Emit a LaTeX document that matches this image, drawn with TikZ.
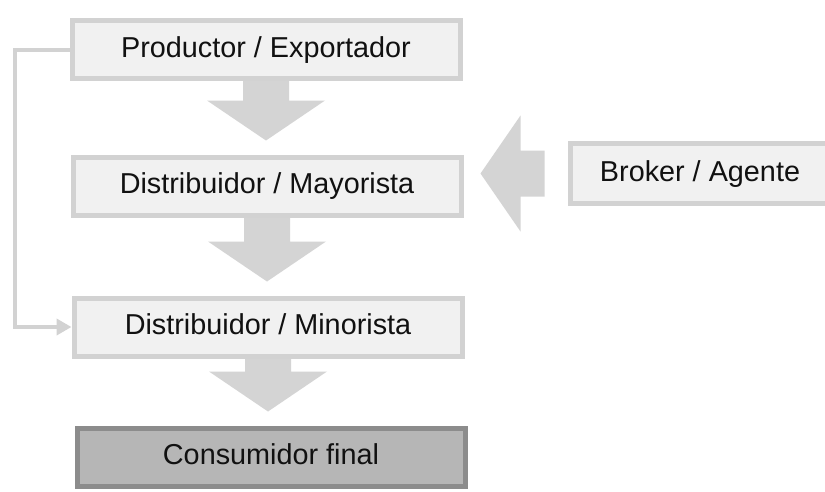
\documentclass[tikz,border=0pt]{standalone}
\usepackage{fontspec}
\setmainfont{Liberation Sans}
\usetikzlibrary{arrows.meta,calc}
\definecolor{bordegris}{HTML}{D2D2D2}
\definecolor{fondogris}{HTML}{F1F1F1}
\definecolor{flechagris}{HTML}{D4D4D4}
\definecolor{finalfondo}{HTML}{B6B6B6}
\definecolor{finalborde}{HTML}{8C8C8C}
\definecolor{textogris}{HTML}{111111}
\tikzset{
	caja/.style={draw=bordegris, fill=fondogris, line width=5pt, minimum width=388pt, minimum height=58pt,
		text=textogris, font=\fontsize{28.8}{34}\selectfont, text height=21pt, text depth=6pt},
	cajafinal/.style={caja, draw=finalborde, fill=finalfondo},
	flecha/.style={fill=flechagris},
	retorno/.style={draw=bordegris, line width=4pt, -{Triangle[length=15pt,width=16pt]}}
}
\begin{document}
\begin{tikzpicture}[x=1pt,y=-1pt]
				\clip (0,0) rectangle (825,491);
				\fill[white] (0,0) rectangle (825,491);
				\node[caja] (prod) at (266,49.5) {Productor / Exportador};
				\node[caja] (mayo) at (267,186) {Distribuidor / Mayorista};
				\node[caja] (mino) at (268,327) {Distribuidor / Minorista};
				\node[cajafinal] (cons) at (271,457) {Consumidor final};
				\node[caja, minimum width=260pt, minimum height=60pt] (brok) at (700,173.5) {Broker / Agente};
				\foreach \a/\b in {prod/mayo,mayo/mino,mino/cons}
					\fill[flecha] let \p1=(\a.south), \p2=(\b.north) in
						(\x1-23pt,\y1) -- (\x1+23pt,\y1) -- (\x1+23pt,\y2+54pt) -- (\x1+59pt,\y2+54pt)
						-- (\x1,\y2+14pt) -- (\x1-59pt,\y2+54pt) -- (\x1-23pt,\y2+54pt) -- cycle;
				\fill[flecha] let \p1=(brok.west), \p2=(mayo.east) in
					(\x1-23pt,\y1+23pt) -- (\x1-23pt,\y1-23pt) -- (\x2+57pt,\y1-23pt) -- (\x2+57pt,\y1-58pt)
					-- (\x2+17pt,\y1) -- (\x2+57pt,\y1+58pt) -- (\x2+57pt,\y1+23pt) -- cycle;
				\draw[retorno] (prod.west) -- ++(-55,0) |- (mino.west);
\end{tikzpicture}
\end{document}
